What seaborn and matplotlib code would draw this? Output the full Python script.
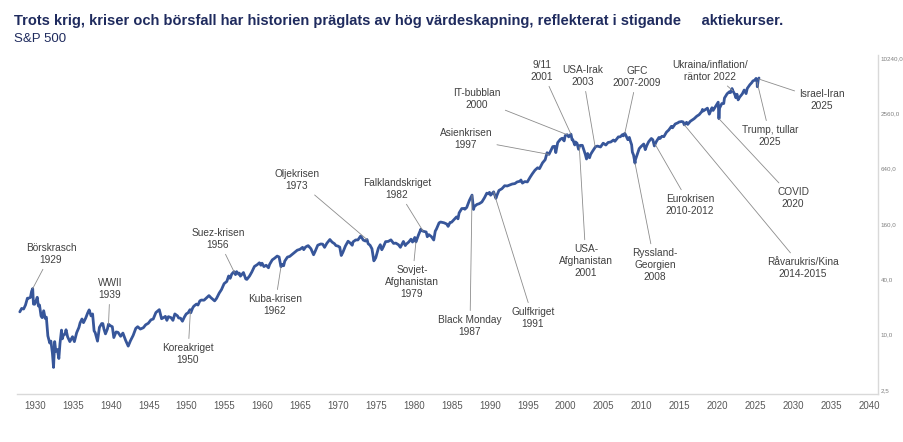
import numpy as np
import matplotlib
matplotlib.use("Agg")
import matplotlib.pyplot as plt
from matplotlib.ticker import NullLocator
import seaborn as sns

# S&P 500 (year as decimal, index level)
years = [
    1928.0, 1928.25, 1928.5, 1928.75,
    1929.0, 1929.2, 1929.4, 1929.55, 1929.7, 1929.8, 1929.95,
    1930.15, 1930.3, 1930.45, 1930.6, 1930.8, 1930.95,
    1931.15, 1931.35, 1931.5, 1931.7, 1931.95,
    1932.1, 1932.3, 1932.45, 1932.6, 1932.75, 1932.95,
    1933.15, 1933.3, 1933.5, 1933.6, 1933.75, 1933.95,
    1934.1, 1934.3, 1934.6, 1934.95,
    1935.2, 1935.5, 1935.8, 1935.95,
    1936.2, 1936.4, 1936.7, 1936.95,
    1937.15, 1937.4, 1937.6, 1937.8, 1937.95,
    1938.25, 1938.5, 1938.8, 1938.95,
    1939.1, 1939.3, 1939.55, 1939.7, 1939.95,
    1940.2, 1940.4, 1940.7, 1940.95,
    1941.3, 1941.6, 1941.95,
    1942.3, 1942.6, 1942.95,
    1943.3, 1943.55, 1943.9,
    1944.3, 1944.6, 1944.95,
    1945.3, 1945.6, 1945.95,
    1946.4, 1946.7, 1946.95,
    1947.2, 1947.4, 1947.6, 1947.95,
    1948.2, 1948.45, 1948.8, 1948.95,
    1949.2, 1949.45, 1949.7, 1949.95,
    1950.2, 1950.45, 1950.55, 1950.8, 1950.95,
    1951.3, 1951.5, 1951.75, 1951.95,
    1952.3, 1952.6, 1952.95,
    1953.2, 1953.5, 1953.7, 1953.95,
    1954.3, 1954.6, 1954.95,
    1955.3, 1955.55, 1955.75, 1955.95,
    1956.25, 1956.45, 1956.6, 1956.85, 1956.95,
    1957.1, 1957.5, 1957.8, 1957.95,
    1958.3, 1958.6, 1958.95,
    1959.3, 1959.6, 1959.8, 1959.95,
    1960.2, 1960.5, 1960.8, 1960.95,
    1961.3, 1961.6, 1961.95,
    1962.2, 1962.45, 1962.6, 1962.8, 1962.95,
    1963.3, 1963.6, 1963.95,
    1964.3, 1964.6, 1964.95,
    1965.3, 1965.45, 1965.7, 1965.95,
    1966.05, 1966.4, 1966.75, 1966.95,
    1967.3, 1967.7, 1967.95,
    1968.2, 1968.5, 1968.9,
    1969.2, 1969.5, 1969.7, 1969.95,
    1970.2, 1970.4, 1970.6, 1970.95,
    1971.3, 1971.6, 1971.85, 1971.95,
    1972.3, 1972.6, 1972.95,
    1973.05, 1973.3, 1973.6, 1973.8, 1973.95,
    1974.2, 1974.45, 1974.7, 1974.95,
    1975.3, 1975.55, 1975.75, 1975.95,
    1976.25, 1976.6, 1976.95,
    1977.3, 1977.6, 1977.95,
    1978.2, 1978.6, 1978.85, 1978.95,
    1979.3, 1979.6, 1979.8, 1979.95,
    1980.1, 1980.25, 1980.6, 1980.9, 1980.95,
    1981.3, 1981.6, 1981.75, 1981.95,
    1982.3, 1982.6, 1982.8, 1982.95,
    1983.3, 1983.5, 1983.95,
    1984.3, 1984.5, 1984.75, 1984.95,
    1985.3, 1985.6, 1985.8, 1985.95,
    1986.3, 1986.6, 1986.7, 1986.95,
    1987.3, 1987.65, 1987.8, 1987.85, 1987.95,
    1988.3, 1988.6, 1988.95,
    1989.3, 1989.6, 1989.8, 1989.95,
    1990.1, 1990.5, 1990.8, 1990.95,
    1991.2, 1991.6, 1991.95,
    1992.3, 1992.6, 1992.95,
    1993.3, 1993.6, 1993.95,
    1994.1, 1994.3, 1994.6, 1994.95,
    1995.3, 1995.6, 1995.95,
    1996.3, 1996.55, 1996.95,
    1997.3, 1997.55, 1997.8, 1997.95,
    1998.3, 1998.55, 1998.7, 1998.95,
    1999.3, 1999.55, 1999.8, 1999.95,
    2000.2, 2000.4, 2000.7, 2000.85, 2000.95,
    2001.2, 2001.3, 2001.5, 2001.7, 2001.85, 2001.95,
    2002.2, 2002.45, 2002.6, 2002.75, 2002.9, 2002.95,
    2003.15, 2003.3, 2003.55, 2003.95,
    2004.2, 2004.6, 2004.95,
    2005.3, 2005.6, 2005.95,
    2006.3, 2006.5, 2006.95,
    2007.2, 2007.5, 2007.6, 2007.8, 2007.95,
    2008.2, 2008.4, 2008.55, 2008.7, 2008.8, 2008.95,
    2009.15, 2009.2, 2009.45, 2009.7, 2009.95,
    2010.3, 2010.5, 2010.7, 2010.95,
    2011.3, 2011.5, 2011.7, 2011.95,
    2012.3, 2012.45, 2012.7, 2012.95,
    2013.3, 2013.6, 2013.95,
    2014.1, 2014.45, 2014.8, 2014.95,
    2015.3, 2015.5, 2015.65, 2015.95,
    2016.1, 2016.45, 2016.95,
    2017.3, 2017.6, 2017.95,
    2018.05, 2018.15, 2018.7, 2018.95,
    2019.3, 2019.45, 2019.7, 2019.95,
    2020.12, 2020.22, 2020.3, 2020.6, 2020.85, 2020.95,
    2021.3, 2021.6, 2021.75, 2021.95,
    2022.05, 2022.3, 2022.45, 2022.6, 2022.75, 2022.95,
    2023.3, 2023.55, 2023.8, 2023.95,
    2024.3, 2024.55, 2024.7, 2024.95,
    2025.12, 2025.25, 2025.28, 2025.4, 2025.5,
]
sp500 = [
    17.7, 19.3, 19.0, 21.0,
    24.9, 25.0, 25.4, 29.5, 31.7, 21.5, 21.4,
    23.5, 25.5, 20.5, 21.0, 16.0, 15.3,
    18.2, 15.0, 15.5, 9.7, 8.1,
    8.5, 6.3, 4.4, 8.4, 6.6, 6.9,
    5.5, 8.0, 11.2, 9.0, 9.9, 10.1,
    11.3, 9.5, 8.4, 9.5,
    8.4, 10.5, 12.0, 13.4,
    14.8, 13.5, 15.2, 17.2,
    18.6, 16.0, 16.8, 11.0, 10.5,
    8.5, 12.0, 13.2, 13.2,
    11.5, 10.2, 11.5, 13.0, 12.5,
    12.2, 9.3, 10.7, 10.6,
    9.6, 10.4, 8.7,
    7.5, 8.6, 9.8,
    11.7, 12.2, 11.5,
    11.9, 12.8, 13.3,
    14.5, 14.8, 17.4,
    18.7, 14.9, 15.3,
    15.8, 14.3, 15.7, 15.3,
    14.3, 16.8, 16.0, 15.2,
    15.1, 14.0, 15.5, 16.8,
    17.3, 18.7, 17.3, 19.5, 20.4,
    21.5, 21.0, 23.3, 23.8,
    23.7, 25.0, 26.6,
    25.3, 24.1, 23.3, 24.8,
    28.3, 30.9, 35.9,
    37.9, 43.5, 41.0, 45.5,
    48.5, 45.0, 48.5, 45.6, 46.7,
    43.3, 47.4, 40.4, 39.9,
    43.4, 48.0, 55.2,
    57.6, 60.5, 56.9, 59.9,
    55.0, 56.9, 53.4, 58.1,
    65.1, 67.8, 71.6,
    70.0, 54.8, 58.0, 56.2, 63.1,
    69.8, 71.0, 75.0,
    79.5, 83.0, 84.8,
    89.1, 84.1, 89.9, 92.4,
    92.9, 86.1, 74.0, 80.3,
    94.0, 97.0, 96.5,
    89.1, 98.7, 108.4,
    101.5, 97.7, 93.1, 92.1,
    89.5, 72.7, 78.1, 92.2,
    103.9, 99.0, 93.9, 102.1,
    107.2, 107.4, 118.1,
    116.0, 106.9, 104.3, 108.4, 97.6,
    93.9, 86.0, 63.5, 68.6,
    87.3, 95.2, 83.9, 90.2,
    102.8, 103.4, 107.5,
    98.4, 99.1, 95.1,
    89.2, 103.3, 93.2, 96.1,
    101.8, 109.3, 101.8, 107.9,
    114.2, 102.1, 122.4, 140.5, 135.8,
    132.8, 130.9, 116.2, 122.6,
    116.4, 107.1, 133.7, 140.6,
    164.4, 168.1, 164.9,
    160.1, 150.7, 166.1, 167.2,
    179.8, 190.9, 182.1, 211.3,
    235.5, 236.1, 231.3, 242.2,
    288.4, 329.8, 251.8, 230.3, 247.1,
    261.3, 266.0, 277.7,
    309.6, 346.6, 340.4, 353.4,
    329.1, 358.0, 304.0, 330.2,
    370.5, 387.8, 417.1,
    414.9, 424.2, 435.7,
    440.2, 458.9, 466.5,
    481.6, 445.8, 462.7, 459.3,
    514.7, 562.1, 615.9,
    654.2, 639.9, 740.7,
    801.3, 954.3, 914.6, 970.4,
    1111.8, 1120.7, 957.3, 1229.2,
    1335.2, 1372.7, 1282.7, 1469.3,
    1498.6, 1420.6, 1517.7, 1315.2, 1320.3,
    1160.3, 1249.5, 1211.2, 1040.9, 1139.5, 1148.1,
    1147.4, 989.8, 911.6, 815.3, 936.3, 879.8,
    841.2, 916.9, 990.3, 1111.9,
    1126.2, 1101.7, 1211.9,
    1156.9, 1234.2, 1248.3,
    1310.6, 1270.2, 1418.3,
    1420.9, 1503.4, 1455.3, 1549.4, 1468.4,
    1322.7, 1400.4, 1267.4, 1166.4, 968.8, 903.3,
    735.1, 797.9, 919.3, 1057.1, 1115.1,
    1186.7, 1030.7, 1141.2, 1257.6,
    1363.6, 1320.6, 1131.4, 1257.6,
    1397.9, 1362.2, 1440.7, 1426.2,
    1597.6, 1685.7, 1848.4,
    1782.6, 1960.2, 2018.1, 2058.9,
    2085.5, 2063.1, 1920.0, 2043.9,
    1940.2, 2098.9, 2238.8,
    2384.2, 2471.7, 2673.6,
    2823.8, 2713.8, 2913.9, 2506.9,
    2945.8, 2752.1, 2976.7, 3230.8,
    3386.0, 2237.4, 2912.4, 3271.1, 3270.0, 3756.1,
    4181.2, 4395.3, 4307.5, 4766.2,
    4515.6, 4131.9, 3785.4, 4130.3, 3585.6, 3839.5,
    4169.5, 4588.9, 4193.8, 4769.8,
    5243.8, 5522.3, 5762.5, 5881.6,
    6144.2, 5611.9, 4982.8, 5911.7, 6205.0,
]

ytick_values = [2.5, 10, 40, 160, 640, 2560, 10240]
xtick_years = list(range(1930, 2041, 5))

# (label, event year on the line, text centre in pixels from top-left)
events = [
    ("Börskrasch\n1929", 1929.7, 51, 254),
    ("WWII\n1939", 1939.7, 110, 289),
    ("Koreakriget\n1950", 1950.5, 188, 354),
    ("Suez-krisen\n1956", 1956.3, 218, 239),
    ("Kuba-krisen\n1962", 1962.45, 275, 305),
    ("Oljekrisen\n1973", 1973.8, 297, 180),
    ("Falklandskriget\n1982", 1981.2, 397, 189),
    ("Sovjet-\nAfghanistan\n1979", 1980.25, 412, 282),
    ("Asienkrisen\n1997", 1997.8, 466, 139),
    ("IT-bubblan\n2000", 2000.2, 477, 99),
    ("9/11\n2001", 2000.7, 542, 71),
    ("USA-Irak\n2003", 2003.9, 583, 76),
    ("GFC\n2007-2009", 2007.8, 637, 77),
    ("Ukraina/inflation/\nräntor 2022", 2022.05, 710, 71),
    ("Israel-Iran\n2025", 2025.45, 822, 100),
    ("Trump, tullar\n2025", 2025.25, 770, 136),
    ("COVID\n2020", 2020.22, 793, 198),
    ("Råvarukris/Kina\n2014-2015", 2015.65, 803, 268),
    ("Eurokrisen\n2010-2012", 2011.8, 690, 205),
    ("USA-\nAfghanistan\n2001", 2001.8, 586, 261),
    ("Ryssland-\nGeorgien\n2008", 2009.15, 655, 265),
    ("Black Monday\n1987", 1987.65, 470, 326),
    ("Gulfkriget\n1991", 1990.5, 533, 318),
]

W, H = 904, 442
LINE = "#37569a"
NAVY = "#1f2b5e"

sns.set_style("white")
plt.rcParams["font.family"] = ["Liberation Sans", "DejaVu Sans"]

fig = plt.figure(figsize=(W / 100, H / 100), dpi=100)
ax = fig.add_axes([17 / W, 48 / H, 861 / W, 339 / H])

sns.lineplot(x=years, y=sp500, ax=ax, color=LINE, linewidth=2.0)

ax.set_yscale("log")
ax.set_xlim(1927.63, 2041.2)
ax.set_ylim(2.26, 11040)
ax.set_xticks(xtick_years)
ax.set_xticklabels([str(y) for y in xtick_years],
                   family=["Liberation Sans Narrow", "Liberation Sans"])
ax.yaxis.tick_right()
ax.set_yticks(ytick_values)
ax.set_yticklabels([f"{v:.1f}".replace(".", ",") for v in ytick_values])
ax.yaxis.set_minor_locator(NullLocator())
ax.tick_params(axis="y", length=0, pad=2, labelsize=4.5, labelcolor="#7f7f7f")
ax.tick_params(axis="x", length=3, width=0.8, color="#a6a6a6", pad=2,
               labelsize=7, labelcolor="#595959")
for side in ["top", "left"]:
    ax.spines[side].set_visible(False)
for side in ["bottom", "right"]:
    ax.spines[side].set_color("#d9d9d9")
    ax.spines[side].set_linewidth(1.0)
ax.set_xlabel("")
ax.set_ylabel("")

log_vals = np.log(sp500)
for label, yr, px, py in events:
    tip = np.exp(np.interp(yr, years, log_vals))
    ax.annotate(label, xy=(yr, tip), xycoords="data",
                xytext=(px, H - py), textcoords="figure pixels",
                ha="center", va="center", fontsize=7.3, color="#404040",
                arrowprops=dict(arrowstyle="-", color="#8c8c8c", lw=0.6,
                                shrinkA=1, shrinkB=0))

fig.text(14 / W, 1 - 21 / H,
         "Trots krig, kriser och börsfall har historien präglats av hög värdeskapning, "
         "reflekterat i stigande     aktiekurser.",
         fontsize=10.5, fontweight="bold", color=NAVY, va="center",
         family=["Liberation Sans Narrow", "Liberation Sans"])
fig.text(14 / W, 1 - 39 / H, "S&P 500", fontsize=9.5, color=NAVY, va="center",
         family=["Liberation Sans Narrow", "Liberation Sans"])

fig.savefig("out.png", dpi=100)
plt.close(fig)
